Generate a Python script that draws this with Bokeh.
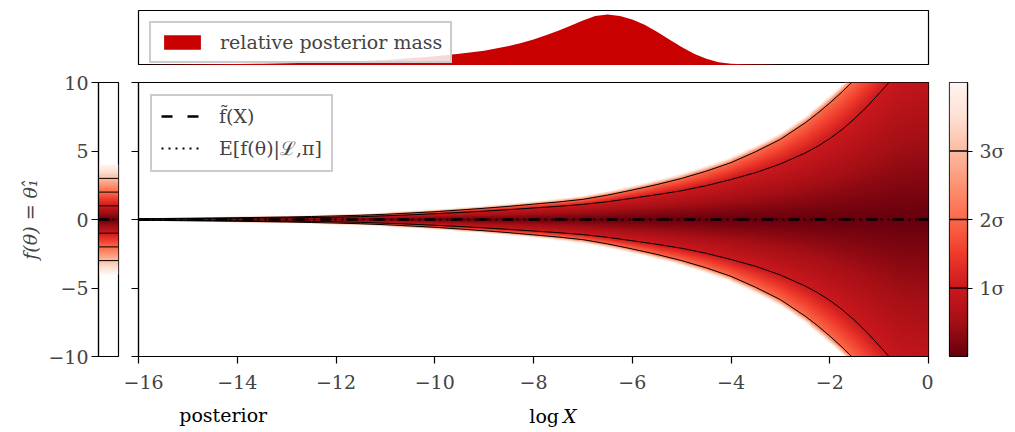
import numpy as np
from bokeh.plotting import figure
from bokeh.layouts import column, row
from bokeh.models import (LinearColorMapper, FixedTicker, CustomJSTickFormatter, Legend,
                          LegendItem, Range1d)
from bokeh.core.properties import value
from bokeh.palettes import Reds256
from bokeh.embed import file_html
from bokeh.resources import INLINE

# ---------------- data ----------------
# half-widths of the sigma bands of f(theta) as a function of log X
logx_nodes = [-16, -15.5, -15, -14.5, -14, -13.5, -13, -12.5, -12, -11.5, -11, -10.5,
              -10, -9.5, -9, -8.5, -8, -7.5, -7, -6.5, -6, -5.5, -5, -4.5, -4, -3.5,
              -3, -2.5, -2.25, -2, -1.75, -1.5, -1.25, -1, -0.75, -0.5, 0]
half_1sig = [0.04, 0.05, 0.06, 0.075, 0.09, 0.105, 0.12, 0.14, 0.17, 0.21, 0.27, 0.34,
             0.42, 0.51, 0.61, 0.72, 0.84, 0.96, 1.10, 1.30, 1.55, 1.81, 2.10, 2.47, 2.92, 3.42,
             4.05, 4.85, 5.33, 5.90, 6.57, 7.35, 8.22, 9.20, 10.2, 11.2, 12.0]
half_2sig = [0.06, 0.075, 0.09, 0.11, 0.13, 0.155, 0.18, 0.22, 0.26, 0.31, 0.38, 0.47,
             0.57, 0.69, 0.82, 0.96, 1.12, 1.28, 1.47, 1.78, 2.15, 2.55, 3.00, 3.53, 4.15, 4.95,
             5.85, 7.05, 7.74, 8.50, 9.32, 10.2, 11.2, 12.2, 12.7, 13.0, 13.5]
half_3sig = [0.08, 0.095, 0.12, 0.14, 0.16, 0.19, 0.22, 0.26, 0.31, 0.37, 0.44, 0.54,
             0.64, 0.77, 0.90, 1.05, 1.22, 1.39, 1.59, 1.92, 2.29, 2.71, 3.16, 3.72, 4.34, 5.15,
             6.07, 7.29, 7.99, 8.75, 9.57, 10.45, 11.45, 12.5, 13.0, 13.3, 13.8]
half_4sig = [0.11, 0.12, 0.15, 0.17, 0.20, 0.23, 0.27, 0.31, 0.37, 0.43, 0.51, 0.62,
             0.72, 0.86, 0.99, 1.15, 1.33, 1.51, 1.72, 2.07, 2.44, 2.88, 3.33, 3.92, 4.54, 5.36,
             6.30, 7.53, 8.24, 9.00, 9.82, 10.7, 11.7, 12.8, 13.3, 13.6, 14.1]

# f-tilde(X) and posterior mean E[f] (both at zero)
centre_x = [-16, 0]
f_tilde = [0, 0]
f_mean = [0, 0]

# relative posterior mass (top panel)
mass_logx = [-16, -15.5, -15, -14.5, -14, -13.5, -13, -12.5, -12, -11.5, -11, -10.5, -10,
             -9.5, -9, -8.5, -8.25, -8, -7.75, -7.5, -7.25, -7, -6.75, -6.5, -6.25, -6,
             -5.75, -5.5, -5.25, -5, -4.75, -4.5, -4.25, -4, -3.75, -3.5, -3, -2.5, -2, -1, 0]
mass_vals = [0.01, 0.015, 0.02, 0.025, 0.03, 0.035, 0.045, 0.055, 0.07, 0.09, 0.11, 0.14,
             0.18, 0.23, 0.29, 0.38, 0.44, 0.51, 0.59, 0.68, 0.78, 0.88, 0.97, 1.0, 0.97,
             0.90, 0.80, 0.66, 0.51, 0.36, 0.23, 0.13, 0.065, 0.035, 0.025, 0.02, 0.012,
             0.008, 0.005, 0.002, 0.0]

# posterior of theta_1 (left panel): half-width at each sigma level
post_sigma = [0, 1, 2, 3, 4]
post_half = [0.0, 1.0, 2.0, 3.0, 4.0]

xticks = [-16, -14, -12, -10, -8, -6, -4, -2, 0]
yticks = [-10, -5, 0, 5, 10]
cbar_ticks = [1, 2, 3]
cbar_labels = {1: "1σ", 2: "2σ", 3: "3σ"}

# ---------------- styling ----------------
FONT = "DejaVu Serif"
FS = "19px"
mapper = LinearColorMapper(palette=Reds256, low=0, high=4,
                           nan_color=(255, 255, 255, 0.0), high_color=(255, 255, 255, 0.0))
minus_fmt = CustomJSTickFormatter(code="return tick < 0 ? '\u2212' + Math.abs(tick) : String(tick);")
blank_fmt = CustomJSTickFormatter(code="return '';")


def style_axis(ax, tick_out=7):
    ax.major_label_text_font = FONT
    ax.major_label_text_font_size = FS
    ax.axis_label_text_font = FONT
    ax.axis_label_text_font_size = FS
    ax.axis_label_text_font_style = "normal"
    ax.major_tick_out = tick_out
    ax.major_tick_in = 0
    ax.minor_tick_line_color = None
    ax.major_tick_line_color = "black"
    ax.major_tick_line_width = 1.2
    ax.axis_line_color = "black"
    ax.axis_line_width = 1.2


def base(**kw):
    p = figure(output_backend="svg", toolbar_location=None, **kw)
    p.xgrid.visible = False
    p.ygrid.visible = False
    p.outline_line_color = "black"
    p.outline_line_width = 1.2
    p.outline_line_alpha = 1.0
    p.background_fill_color = "white"
    p.border_fill_color = "white"
    return p


xr = Range1d(-16, 0)
yr = Range1d(-10, 10)
ROW_H = 337
ROW_TOP = 17
ROW_BOTTOM = 46

# ---------------- main panel ----------------
main = base(width=810, height=ROW_H, x_range=xr, y_range=yr,
            min_border_left=15, min_border_right=5, min_border_top=ROW_TOP,
            min_border_bottom=ROW_BOTTOM)

gx = np.linspace(-16, 0, 800)
gy = np.linspace(-10, 10, 400)
w = [np.interp(gx, logx_nodes, h) for h in (half_1sig, half_2sig, half_3sig, half_4sig)]
Y = np.abs(gy)[:, None]
w1, w2, w3, w4 = [a[None, :] for a in w]
s = np.where(Y <= w1, Y / w1,
    np.where(Y <= w2, 1 + (Y - w1) / (w2 - w1),
    np.where(Y <= w3, 2 + (Y - w2) / (w3 - w2), 3 + (Y - w3) / (w4 - w3))))
s[s > 4] = np.nan
main.image(image=[s.astype(np.float32)], x=-16, y=-10, dw=16, dh=20, color_mapper=mapper)

neg = lambda a: [-v for v in a]
for h in (half_1sig, half_2sig):
    main.line(logx_nodes, h, color="black", line_width=1)
    main.line(logx_nodes, neg(h), color="black", line_width=1)

r_dash = main.line(centre_x, f_tilde, color="black", line_width=2.5, line_dash="11 15")
r_dot = main.line(centre_x, f_mean, color="black", line_width=2.2, line_dash="2 5")

main.xaxis.ticker = FixedTicker(ticks=xticks)
main.xaxis.formatter = minus_fmt
main.yaxis.ticker = FixedTicker(ticks=yticks)
main.yaxis.formatter = blank_fmt
style_axis(main.xaxis[0])
style_axis(main.yaxis[0])
main.xaxis.major_label_standoff = 11
main.yaxis.major_label_standoff = 0

leg = Legend(items=[LegendItem(label="f\u0303(X)", renderers=[r_dash]),
                    LegendItem(label="E[f(θ)|ℒ,π]", renderers=[r_dot])],
             location="top_left", margin=12, padding=9, spacing=8,
             glyph_width=38, glyph_height=22, label_height=22, label_standoff=20,
             label_text_font=FONT, label_text_font_size=FS,
             border_line_color="#cccccc", border_line_width=2, border_line_alpha=1.0,
             background_fill_alpha=0.85)
main.add_layout(leg)

# ---------------- top panel ----------------
top = base(width=1007, height=65, x_range=xr, y_range=Range1d(0, 1.077),
           x_axis_location=None, y_axis_location=None,
           min_border_left=138, min_border_right=79, min_border_top=10, min_border_bottom=0)
r_mass = top.varea(x=mass_logx, y1=[0] * len(mass_vals), y2=mass_vals, color="#c80000")
leg2 = Legend(items=[LegendItem(label="relative posterior mass", renderers=[r_mass])],
              location="top_left", margin=11, padding=8, spacing=0,
              glyph_width=46, glyph_height=18, label_height=20, label_standoff=15,
              label_text_font=FONT, label_text_font_size=FS,
              border_line_color="#cccccc", border_line_width=2, border_line_alpha=1.0,
              background_fill_alpha=0.85)
top.add_layout(leg2)

# ---------------- left (posterior) panel ----------------
left = base(width=123, height=ROW_H, x_range=Range1d(0, 1), y_range=yr,
            x_axis_location=None,
            min_border_left=98, min_border_right=5, min_border_top=ROW_TOP,
            min_border_bottom=ROW_BOTTOM)
py = np.linspace(-10, 10, 400)
ps = np.interp(np.abs(py), post_half, post_sigma)
ps[np.abs(py) > post_half[-1]] = np.nan
left.image(image=[ps[:, None].astype(np.float32)], x=0, y=-10, dw=1, dh=20, color_mapper=mapper)
for lvl in post_half[1:4]:
    left.line([0, 1], [lvl, lvl], color="black", line_width=1)
    left.line([0, 1], [-lvl, -lvl], color="black", line_width=1)
left.line([0, 1], [0, 0], color="black", line_width=2.5, line_dash="11 15")
left.line([0, 1], [0, 0], color="black", line_width=2.2, line_dash="2 5")
left.yaxis.ticker = FixedTicker(ticks=yticks)
left.yaxis.formatter = minus_fmt
left.yaxis.axis_label = "f(θ) = θ\u2081\u0302"
style_axis(left.yaxis[0])
left.yaxis.axis_label_text_font_style = "italic"
left.yaxis.major_label_standoff = 3
left.yaxis.axis_label_standoff = 4

# ---------------- colour bar ----------------
cbar = base(width=74, height=ROW_H, x_range=Range1d(0, 1), y_range=Range1d(0, 4),
            x_axis_location=None, y_axis_location="right",
            min_border_left=16, min_border_right=38, min_border_top=ROW_TOP,
            min_border_bottom=ROW_BOTTOM)
cb = np.linspace(0, 4, 400)
cbar.image(image=[cb[:, None].astype(np.float32)], x=0, y=0, dw=1, dh=4, color_mapper=mapper)
cbar.multi_line(xs=[[0, 1] for _ in cbar_ticks], ys=[[t, t] for t in cbar_ticks],
                color="black", line_width=1.3)
cbar.yaxis.ticker = FixedTicker(ticks=cbar_ticks)
cbar.yaxis.major_label_overrides = cbar_labels
style_axis(cbar.yaxis[0], tick_out=5)
cbar.yaxis.major_label_standoff = 7

# ---------------- bottom strip with the axis titles ----------------
strip = figure(width=1007, height=28, x_range=Range1d(0, 1007), y_range=Range1d(0, 28),
               x_axis_location=None, y_axis_location=None, output_backend="svg",
               toolbar_location=None, min_border=0)
strip.xgrid.visible = False
strip.ygrid.visible = False
strip.outline_line_color = None
strip.text(x=[108], y=[16], text=["posterior"], text_align="center", text_baseline="middle",
           text_font=value(FONT), text_font_size=FS, text_color="black")
strip.text(x=[536], y=[15], text=["log"], text_align="right", text_baseline="middle",
           text_font=value(FONT), text_font_size=FS, text_color="black")
strip.text(x=[541], y=[15], text=["X"], text_align="left", text_baseline="middle",
           text_font=value(FONT), text_font_size=FS, text_font_style="italic", text_color="black")

layout = column(top, row(left, main, cbar, spacing=0), strip, spacing=0)
open("out.html", "w").write(file_html(layout, INLINE))
